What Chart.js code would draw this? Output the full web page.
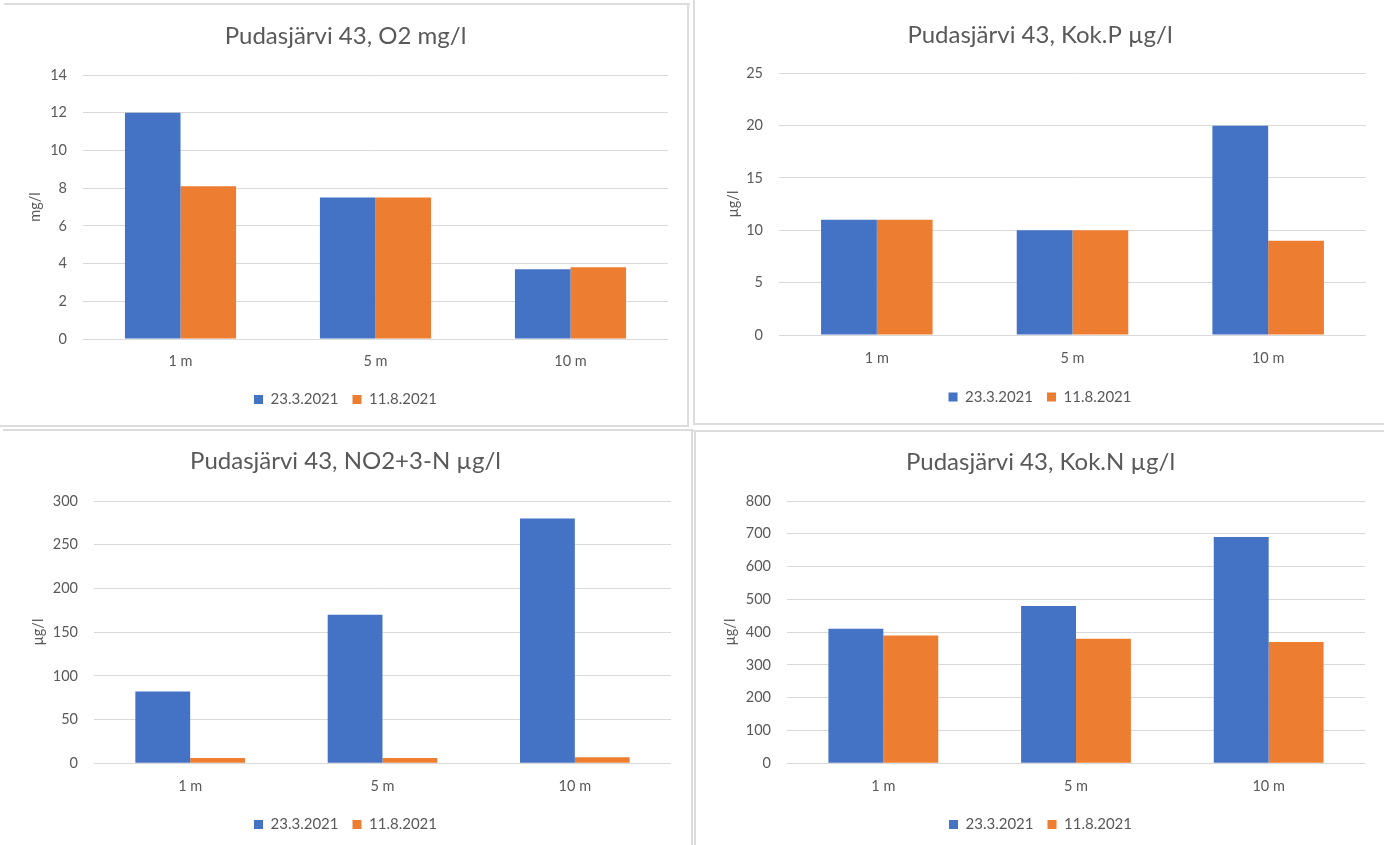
<!DOCTYPE html>
<html>
<head>
<meta charset="utf-8">
<script src="https://cdn.jsdelivr.net/npm/chart.js@4"></script>
<style>
  html, body { margin: 0; padding: 0; background: #ffffff; }
  body { width: 1384px; height: 845px; overflow: hidden; position: relative; }
  canvas { position: absolute; }
  .ln { position: absolute; background: #dcdcdc; }
</style>
</head>
<body>
<!-- panel frames -->
<div class="ln" style="left:4px;top:3px;width:686px;height:2px"></div>
<div class="ln" style="left:687px;top:3px;width:2px;height:424px"></div>
<div class="ln" style="left:0px;top:425px;width:689px;height:2px"></div>
<div class="ln" style="left:693px;top:0px;width:2px;height:425px"></div>
<div class="ln" style="left:693px;top:423px;width:691px;height:2px"></div>
<div class="ln" style="left:3px;top:429px;width:690px;height:2px"></div>
<div class="ln" style="left:691px;top:429px;width:2px;height:416px"></div>
<div class="ln" style="left:693px;top:430px;width:691px;height:2px"></div>
<div class="ln" style="left:694px;top:430px;width:2px;height:415px"></div>

<canvas id="c1"></canvas>
<canvas id="c2"></canvas>
<canvas id="c3"></canvas>
<canvas id="c4"></canvas>

<script>
// ---------- data ----------
const categories = ['1 m', '5 m', '10 m'];
const seriesNames = ['23.3.2021', '11.8.2021'];

const o2Mar = [12, 7.5, 3.7];
const o2Aug = [8.1, 7.5, 3.8];

const kokPMar = [11, 10, 20];
const kokPAug = [11, 10, 9];

const no23Mar = [82, 170, 280];
const no23Aug = [6, 6, 7];

const kokNMar = [410, 480, 690];
const kokNAug = [390, 380, 370];

const chartTitles = [
  'Pudasjärvi 43, O2 mg/l',
  'Pudasjärvi 43, Kok.P µg/l',
  'Pudasjärvi 43, NO2+3-N µg/l',
  'Pudasjärvi 43, Kok.N µg/l'
];
const axisTitles = ['mg/l', 'µg/l', 'µg/l', 'µg/l'];
const yMaxes = [14, 25, 300, 800];
const ySteps = [2, 5, 50, 100];

// ---------- styles / layout ----------
const COLORS = ['#4472C4', '#ED7D31'];
const TEXT = '#595959';
const GRID = '#d9d9d9';
const FAMILY = 'Lato, "Open Sans", sans-serif';
const TITLE_SIZE = 24;
const TICK_SIZE = 14.5;
const AX_SIZE = 14.5;
const LEG_SIZE = 15;
const LEG_PAD = 14;
const LEG_BOX = 9;

const layouts = [
  {id:'c1', cx:4,   cy:5,   cw:683, ch:420, l:83,  r:668,  t:75,   b:339,   titleY:36.3,  yTitleX:35,  catY:361.5, legY:399.5},
  {id:'c2', cx:696, cy:0,   cw:688, ch:423, l:779, r:1366, t:73.3, b:335,   titleY:35.6,  yTitleX:733, catY:358.5, legY:396.9},
  {id:'c3', cx:0,   cy:432, cw:691, ch:413, l:94,  r:671,  t:501,  b:763.3, titleY:461.6, yTitleX:38,  catY:786.5, legY:824.5},
  {id:'c4', cx:697, cy:433, cw:687, ch:412, l:787, r:1365, t:501,  b:763.3, titleY:462.3, yTitleX:730, catY:786.5, legY:824.5}
];

function makeChart(i, marValues, augValues) {
  const L = layouts[i];
  const cv = document.getElementById(L.id);
  cv.width = L.cw; cv.height = L.ch;
  cv.style.left = L.cx + 'px'; cv.style.top = L.cy + 'px';
  cv.style.width = L.cw + 'px'; cv.style.height = L.ch + 'px';

  const pad = L.cx + L.cw - L.r;
  const yW = L.l - L.cx - pad;
  const titleLH = TITLE_SIZE * 1.2;
  const tPadTop = L.titleY - L.cy - titleLH / 2;
  const tPadBottom = (L.t - L.cy) - tPadTop - titleLH;
  const legItemH = Math.max(LEG_SIZE, LEG_BOX);
  const legTop = L.legY - L.cy - LEG_PAD - legItemH / 2;
  const legH = legItemH + LEG_PAD + 10;
  const padBottom = L.ch - legTop - legH;
  const xH = legTop - (L.b - L.cy);
  const xPad = L.catY - L.b - (TICK_SIZE * 1.2) / 2;
  const yTitlePad = L.yTitleX - L.cx - pad - (AX_SIZE * 1.2) / 2;

  return new Chart(cv, {
    type: 'bar',
    data: {
      labels: categories,
      datasets: [
        { label: seriesNames[0], data: marValues, backgroundColor: COLORS[0], borderWidth: 0 },
        { label: seriesNames[1], data: augValues, backgroundColor: COLORS[1], borderWidth: 0 }
      ]
    },
    options: {
      responsive: false,
      animation: false,
      events: [],
      layout: { padding: { left: pad, right: pad, top: 0, bottom: padBottom } },
      datasets: { bar: { categoryPercentage: 0.57, barPercentage: 1.0 } },
      plugins: {
        title: {
          display: true,
          text: chartTitles[i],
          color: TEXT,
          font: { family: FAMILY, size: TITLE_SIZE, weight: 'normal' },
          padding: { top: tPadTop, bottom: tPadBottom }
        },
        legend: {
          display: true,
          position: 'bottom',
          labels: {
            color: TEXT,
            font: { family: FAMILY, size: LEG_SIZE },
            boxWidth: LEG_BOX,
            boxHeight: LEG_BOX,
            padding: LEG_PAD
          }
        },
        tooltip: { enabled: false }
      },
      scales: {
        x: {
          grid: { display: false, drawTicks: false },
          border: { display: false },
          ticks: { color: TEXT, font: { family: FAMILY, size: TICK_SIZE }, padding: xPad, maxRotation: 0 },
          afterFit: s => { s.height = xH; }
        },
        y: {
          min: 0,
          max: yMaxes[i],
          grid: { color: GRID, lineWidth: 1, drawTicks: false },
          border: { display: false },
          ticks: { stepSize: ySteps[i], color: TEXT, font: { family: FAMILY, size: TICK_SIZE }, padding: 16 },
          title: {
            display: true,
            text: axisTitles[i],
            color: TEXT,
            font: { family: FAMILY, size: AX_SIZE },
            padding: { top: yTitlePad, bottom: 0 }
          },
          afterFit: s => { s.width = yW; }
        }
      }
    }
  });
}

function drawAll() {
  Chart.defaults.font.family = FAMILY;
  makeChart(0, o2Mar, o2Aug);
  makeChart(1, kokPMar, kokPAug);
  makeChart(2, no23Mar, no23Aug);
  makeChart(3, kokNMar, kokNAug);
}

Promise.all([
  document.fonts.load('24px Lato'),
  document.fonts.load('15px Lato')
]).then(drawAll, drawAll);
</script>
</body>
</html>
